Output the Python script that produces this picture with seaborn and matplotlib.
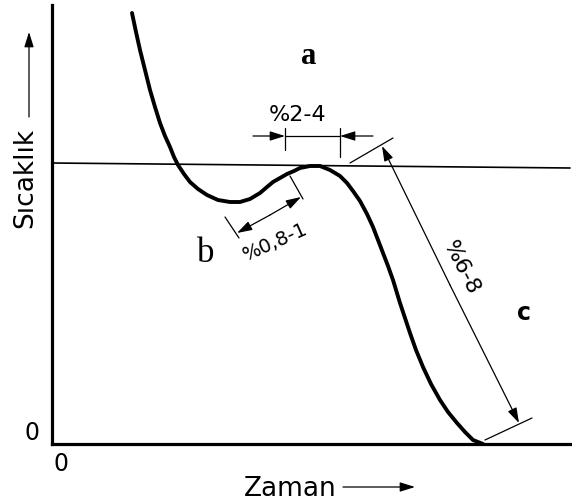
import numpy as np
import pandas as pd
import matplotlib
matplotlib.use("Agg")
import matplotlib.pyplot as plt
import seaborn as sns

# cooling curve (time, temperature), arbitrary units
zaman = [80, 84, 88, 93, 98, 103, 108, 113, 118, 122, 126, 132, 138, 146,
         155, 166, 178, 188, 198, 208, 215, 221, 228, 235, 242, 248, 258,
         268, 278, 288, 295, 301, 308, 315, 321, 326, 331, 336, 341, 348,
         353, 358, 364, 371, 379, 388, 396, 405, 413, 421, 431]
sicaklik = [431, 412, 394, 374, 354, 337, 321, 308, 297, 287, 279, 270, 262,
            255, 249, 244, 242, 242, 245, 251, 257, 262, 266, 270, 273, 276,
            278, 278, 274, 268, 261, 253, 243, 230, 217, 204, 191, 178, 164,
            141, 126, 111, 94, 77, 60, 44, 32, 21, 12, 4, 0]

ref_x = [0, 518]          # horizontal reference line (slightly tilted scan)
ref_y = [281, 276]

# region letters: text, x, y, font, size, weight
labels = [("a", 257, 388, "Liberation Serif", 22, "bold"),
          ("b", 154, 190, "Liberation Serif", 25, "normal"),
          ("c", 472, 131, "DejaVu Sans", 17, "bold")]

sns.set_theme(style="white")
plt.rcParams['font.family'] = ['DejaVu Sans']
plt.rcParams['text.color'] = 'black'

fig = plt.figure(figsize=(5.72, 5.03), dpi=100)
ax = fig.add_axes([52 / 572, 59 / 503, 520 / 572, 439 / 503])
ax.set_xlim(0, 520)
ax.set_ylim(0, 439)

df = pd.DataFrame({"Zaman": zaman, "Sicaklik": sicaklik})
sns.lineplot(data=df, x="Zaman", y="Sicaklik", sort=False, color="black",
             linewidth=2.8, ax=ax)
ax.plot(ref_x, ref_y, color="black", linewidth=1.2)

for s in ["top", "right"]:
    ax.spines[s].set_visible(False)
for s in ["left", "bottom"]:
    ax.spines[s].set_linewidth(2.3)
    ax.spines[s].set_color("black")
ax.set_xticks([])
ax.set_yticks([])
ax.set_xlabel("")
ax.set_ylabel("")

lw = 0.9
arr = dict(arrowstyle="-|>,head_length=0.7,head_width=0.22", color="black",
           lw=lw, mutation_scale=13, shrinkA=0, shrinkB=0)

def px(x, y):
    # picture pixel -> data coords
    return (x - 52, 444 - y)

def seg(p, q):
    a, b = px(*p), px(*q)
    ax.plot([a[0], b[0]], [a[1], b[1]], color="black", lw=lw, clip_on=False)

def arrow(p, q):
    ax.annotate("", xy=px(*q), xytext=px(*p), arrowprops=arr,
                annotation_clip=False)

# %2-4 dimension
seg((285, 128), (285, 150))
seg((340, 128), (340, 157))
seg((285, 136), (340, 136))
arrow((253, 136), (285, 136))
arrow((373, 136), (340, 136))
ax.text(*px(298, 115), "%2-4", fontsize=16, ha="center", va="center")

# %0,8-1 dimension
seg((225, 217), (239, 238))
seg((290, 176), (303, 199))
arrow((270, 215), (237, 233))
arrow((270, 215), (301, 197))
ax.text(*px(275, 242), "%0,8-1", fontsize=14, ha="center", va="center",
        rotation=24, rotation_mode="anchor")

# %6-8 dimension
seg((350, 163), (393, 138))
seg((485, 440), (532, 418))
arrow((450, 285), (382, 146))
arrow((450, 285), (519, 423))
ax.text(*px(461, 268), "%6-8", fontsize=16, ha="center", va="center",
        rotation=-63, rotation_mode="anchor")

for k, x, y, fam, size, wt in labels:
    ax.text(x, y, k, fontsize=size, family=fam, fontweight=wt,
            ha="center", va="center")

# axis texts
ax.text(*px(25, 178), "Sıcaklık", fontsize=19, rotation=90,
        ha="center", va="center")
arrow((29, 117), (29, 32))
ax.text(*px(290, 489), "Zaman", fontsize=19, ha="center", va="center")
arrow((343, 487), (415, 487))
ax.text(*px(32, 433), "0", fontsize=17, ha="center", va="center")
ax.text(*px(61, 464), "0", fontsize=17, ha="center", va="center")

fig.savefig("out.png", dpi=100)
